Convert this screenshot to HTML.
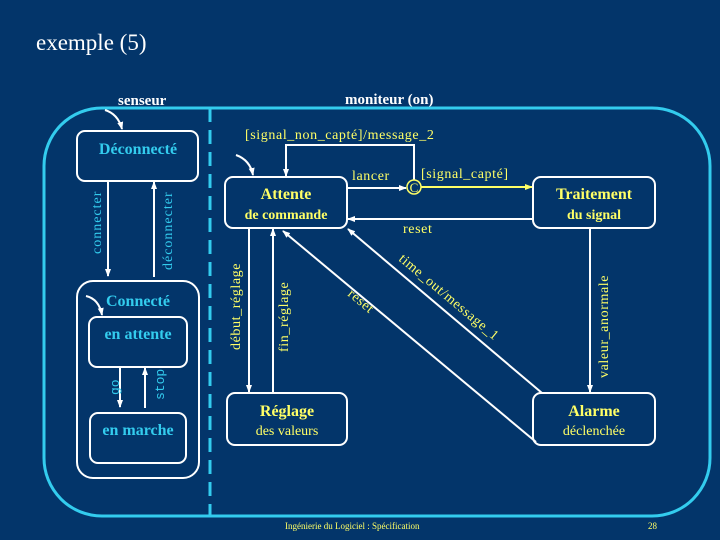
<!DOCTYPE html>
<html><head><meta charset="utf-8"><style>
html,body{margin:0;padding:0;background:#03356a;}
svg{display:block}
.s{font-family:"Liberation Serif",serif}
.m{font-family:"Liberation Mono",monospace}
</style></head><body>
<svg width="720" height="540" viewBox="0 0 720 540" xmlns="http://www.w3.org/2000/svg">
<defs>
<marker id="a" markerWidth="8" markerHeight="8" refX="7" refY="4" orient="auto" markerUnits="userSpaceOnUse"><path d="M0,1 L8,4 L0,7 z" fill="#fff"/></marker>
<marker id="y" markerWidth="8" markerHeight="8" refX="7" refY="4" orient="auto" markerUnits="userSpaceOnUse"><path d="M0,1 L8,4 L0,7 z" fill="#ffff66"/></marker>
</defs>
<rect width="720" height="540" fill="#03356a"/>
<text x="36" y="50" class="s" font-size="23" fill="#fff">exemple (5)</text>
<text x="118" y="105" class="s" font-size="15" font-weight="bold" fill="#fff">senseur</text>
<text x="345" y="104" class="s" font-size="15" font-weight="bold" fill="#fff">moniteur (on)</text>
<rect x="44" y="108" width="666" height="408" rx="58" fill="none" stroke="#33ccee" stroke-width="3"/>
<line x1="210" y1="108" x2="210" y2="516" stroke="#33ccee" stroke-width="3" stroke-dasharray="14,8"/>
<g fill="none" stroke="#fff" stroke-width="2">
<rect x="77" y="131" width="121" height="50" rx="8"/>
<rect x="77" y="281" width="122" height="197" rx="16"/>
<rect x="89" y="317" width="98" height="50" rx="8"/>
<rect x="90" y="413" width="96" height="50" rx="8"/>
<rect x="225" y="177" width="122" height="51" rx="8"/>
<rect x="533" y="177" width="122" height="51" rx="8"/>
<rect x="227" y="393" width="120" height="52" rx="8"/>
<rect x="533" y="393" width="122" height="52" rx="8"/>
<path d="M105,110 Q118,114 122,129" marker-end="url(#a)"/>
<path d="M236,155 Q250,160 253,175" marker-end="url(#a)"/>
<path d="M86,296 Q99,299 102,315" marker-end="url(#a)"/>
<line x1="108" y1="181" x2="108" y2="276" marker-end="url(#a)"/>
<line x1="154" y1="277" x2="154" y2="182" marker-end="url(#a)"/>
<line x1="120" y1="367" x2="120" y2="407" marker-end="url(#a)"/>
<line x1="145" y1="408" x2="145" y2="368" marker-end="url(#a)"/>
<line x1="347" y1="188" x2="406" y2="188" marker-end="url(#a)"/>
<path d="M414,180 V145 H286 V176" marker-end="url(#a)"/>
<line x1="533" y1="219" x2="348" y2="219" marker-end="url(#a)"/>
<line x1="249" y1="228" x2="249" y2="392" marker-end="url(#a)"/>
<line x1="273" y1="393" x2="273" y2="229" marker-end="url(#a)"/>
<line x1="590" y1="228" x2="590" y2="392" marker-end="url(#a)"/>
<line x1="536" y1="442" x2="283" y2="231" marker-end="url(#a)"/>
<line x1="542" y1="393" x2="348" y2="229" marker-end="url(#a)"/>
</g>
<circle cx="414" cy="187" r="7" fill="none" stroke="#ffff66" stroke-width="1.5"/>
<text x="414" y="192" text-anchor="middle" class="s" font-size="13" fill="#ffff66">C</text>
<line x1="421" y1="187" x2="532" y2="187" stroke="#ffff66" stroke-width="2" marker-end="url(#y)"/>
<g class="s" font-weight="bold" text-anchor="middle">
<text x="138" y="154" font-size="16" fill="#33ccee">Déconnecté</text>
<text x="138" y="306" font-size="16" fill="#33ccee">Connecté</text>
<text x="138" y="339" font-size="16" fill="#33ccee">en attente</text>
<text x="138" y="435" font-size="16" fill="#33ccee">en marche</text>
<text x="286" y="199" font-size="16" fill="#ffff66">Attente</text>
<text x="286" y="219" font-size="14" fill="#ffff66">de commande</text>
<text x="594" y="199" font-size="16" fill="#ffff66">Traitement</text>
<text x="594" y="219" font-size="14" fill="#ffff66">du signal</text>
<text x="287" y="416" font-size="16" fill="#ffff66">Réglage</text>
<text x="594" y="416" font-size="16" fill="#ffff66">Alarme</text>
</g>
<g class="s" text-anchor="middle" fill="#ffff66" font-size="14">
<text x="287" y="435">des valeurs</text>
<text x="594" y="435">déclenchée</text>
</g>
<g class="s" fill="#ffff66" font-size="14" letter-spacing="0.6">
<text x="245" y="139">[signal_non_capté]/message_2</text>
<text x="352" y="180">lancer</text>
<text x="421" y="178">[signal_capté]</text>
<text x="403" y="233">reset</text>
<text transform="translate(240,350) rotate(-90)">début_réglage</text>
<text transform="translate(288,352) rotate(-90)">fin_réglage</text>
<text transform="translate(608,378) rotate(-90)">valeur_anormale</text>
<text transform="translate(347,295) rotate(40)">reset</text>
<text transform="translate(398,260) rotate(40)">time_out/message_1</text>
</g>
<g class="s" fill="#33ccee" font-size="14" letter-spacing="1">
<text transform="translate(101,254) rotate(-90)">connecter</text>
<text transform="translate(172,270) rotate(-90)">déconnecter</text>
</g>
<g class="m" fill="#33ccee" font-size="13">
<text transform="translate(119,395) rotate(-90)">go</text>
<text transform="translate(164,400) rotate(-90)">stop</text>
</g>
<text x="285" y="529" class="s" font-size="9" fill="#ffff66">Ingénierie du Logiciel : Spécification</text>
<text x="648" y="529" class="s" font-size="9" fill="#ffff66">28</text>
</svg>
</body></html>
